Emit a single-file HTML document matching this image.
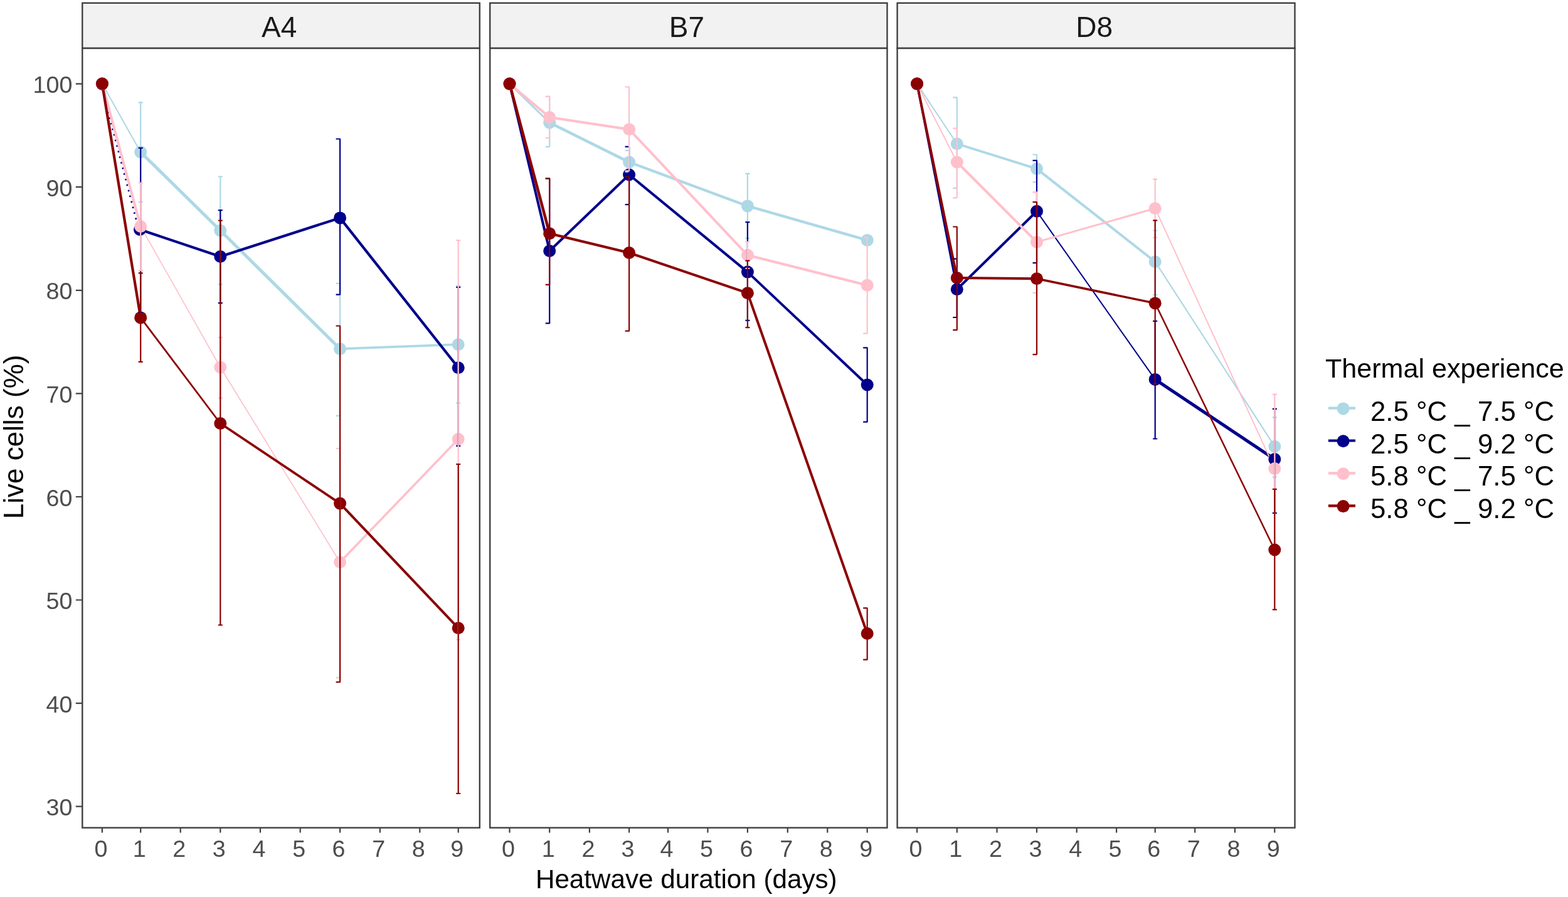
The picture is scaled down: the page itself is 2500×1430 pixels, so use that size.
<!DOCTYPE html><html><head><meta charset="utf-8"><title>Live cells</title><style>html,body{margin:0;padding:0;background:#fff;}svg{display:block;}text{font-family:"Liberation Sans",Arial,sans-serif;}</style></head><body>
<svg width="2500" height="1430" viewBox="0 0 2500 1430">
<rect width="2500" height="1430" fill="#ffffff"/>
<rect x="131.3" y="4.8" width="633.5" height="72.1" fill="#F2F2F2" stroke="#404040" stroke-width="2.4"/>
<text x="445.1" y="59.4" font-size="46" fill="#1A1A1A" text-anchor="middle">A4</text>
<clipPath id="cA4"><rect x="131.3" y="76.9" width="633.5" height="1242.7"/></clipPath>
<g clip-path="url(#cA4)">
<line x1="162.9" y1="133.6" x2="224.2" y2="242.5" stroke="#ADD8E6" stroke-width="2" stroke-linecap="butt"/>
<line x1="224.2" y1="242.5" x2="351.3" y2="367.5" stroke="#ADD8E6" stroke-width="5" stroke-linecap="butt"/>
<line x1="351.3" y1="367.5" x2="542.1" y2="556.2" stroke="#ADD8E6" stroke-width="5" stroke-linecap="butt"/>
<line x1="542.1" y1="556.2" x2="730.7" y2="549.2" stroke="#ADD8E6" stroke-width="3.8" stroke-linecap="butt"/>
<line x1="160.8" y1="133.6" x2="221.6" y2="367.5" stroke="#00008B" stroke-width="2.6" stroke-dasharray="2.6 6.6"/>
<line x1="223" y1="366" x2="351.3" y2="409" stroke="#00008B" stroke-width="4.2" stroke-linecap="butt"/>
<line x1="351.3" y1="409" x2="542.1" y2="347.4" stroke="#00008B" stroke-width="4.2" stroke-linecap="butt"/>
<line x1="542.1" y1="347.4" x2="730.7" y2="586.2" stroke="#00008B" stroke-width="4.2" stroke-linecap="butt"/>
<line x1="162.9" y1="133.6" x2="224.2" y2="361" stroke="#FFC0CB" stroke-width="4.2" stroke-linecap="butt"/>
<line x1="224.2" y1="361" x2="351.3" y2="585.5" stroke="#FFC0CB" stroke-width="1.7" stroke-linecap="butt"/>
<line x1="351.3" y1="585.5" x2="542.1" y2="896.2" stroke="#FFC0CB" stroke-width="1.7" stroke-linecap="butt"/>
<line x1="542.1" y1="896.2" x2="730.7" y2="700" stroke="#FFC0CB" stroke-width="3.6" stroke-linecap="butt"/>
<line x1="162.9" y1="133.6" x2="224.2" y2="506.4" stroke="#8B0000" stroke-width="4.2" stroke-linecap="butt"/>
<line x1="224.2" y1="506.4" x2="351.3" y2="675" stroke="#8B0000" stroke-width="2.8" stroke-linecap="butt"/>
<line x1="351.3" y1="675" x2="542.1" y2="802.6" stroke="#8B0000" stroke-width="3.8" stroke-linecap="butt"/>
<line x1="542.1" y1="802.6" x2="730.7" y2="1001.3" stroke="#8B0000" stroke-width="4" stroke-linecap="butt"/>
<circle cx="162.9" cy="133.6" r="10" fill="#ADD8E6"/>
<circle cx="224.2" cy="242.5" r="10" fill="#ADD8E6"/>
<circle cx="351.3" cy="367.5" r="10" fill="#ADD8E6"/>
<circle cx="542.1" cy="556.2" r="10" fill="#ADD8E6"/>
<circle cx="730.7" cy="549.2" r="10" fill="#ADD8E6"/>
<circle cx="162.9" cy="133.6" r="10" fill="#00008B"/>
<circle cx="223" cy="366" r="10" fill="#00008B"/>
<circle cx="351.3" cy="409" r="10" fill="#00008B"/>
<circle cx="542.1" cy="347.4" r="10" fill="#00008B"/>
<circle cx="730.7" cy="586.2" r="10" fill="#00008B"/>
<circle cx="162.9" cy="133.6" r="10" fill="#FFC0CB"/>
<circle cx="224.2" cy="361" r="10" fill="#FFC0CB"/>
<circle cx="351.3" cy="585.5" r="10" fill="#FFC0CB"/>
<circle cx="542.1" cy="896.2" r="10" fill="#FFC0CB"/>
<circle cx="730.7" cy="700" r="10" fill="#FFC0CB"/>
<circle cx="162.9" cy="133.6" r="10" fill="#8B0000"/>
<circle cx="224.2" cy="506.4" r="10" fill="#8B0000"/>
<circle cx="351.3" cy="675" r="10" fill="#8B0000"/>
<circle cx="542.1" cy="802.6" r="10" fill="#8B0000"/>
<circle cx="730.7" cy="1001.3" r="10" fill="#8B0000"/>
<path d="M224.2 163.3V322M220.7 163.3H227.7M220.7 322H227.7" stroke="#ADD8E6" stroke-width="2.2" fill="none"/>
<path d="M351.3 281.5V453.4M347.8 281.5H354.8M347.8 453.4H354.8" stroke="#ADD8E6" stroke-width="2.2" fill="none"/>
<path d="M542.1 451.8V662.9M535.6 451.8H542.7M535.6 662.9H542.7" stroke="#ADD8E6" stroke-width="2.2" fill="none"/>
<path d="M730.7 455.9V642.5M727.2 455.9H734.2M727.2 642.5H734.2" stroke="#ADD8E6" stroke-width="2.2" fill="none"/>
<path d="M224.2 235.8V498M220.7 235.8H227.7M220.7 498H227.7" stroke="#00008B" stroke-width="2.2" fill="none"/>
<path d="M351.3 335.2V483.2M347.8 335.2H354.8M347.8 483.2H354.8" stroke="#00008B" stroke-width="2.2" fill="none"/>
<path d="M542.1 221.5V469.6M535.6 221.5H542.7M535.6 469.6H542.7" stroke="#00008B" stroke-width="2.2" fill="none"/>
<path d="M730.7 457.8V710.8M727.2 457.8H734.2M727.2 710.8H734.2" stroke="#00008B" stroke-width="2.2" fill="none"/>
<path d="M224.2 291.5V431.1M220.7 291.5H227.7M220.7 431.1H227.7" stroke="#FFC0CB" stroke-width="2.2" fill="none"/>
<path d="M351.3 537.9V634.6M347.8 537.9H354.8M347.8 634.6H354.8" stroke="#FFC0CB" stroke-width="2.2" fill="none"/>
<path d="M542.1 715V1080.4M535.6 715H542.7M535.6 1080.4H542.7" stroke="#FFC0CB" stroke-width="2.2" fill="none"/>
<path d="M730.7 383.1V1019.7M727.2 383.1H734.2M727.2 1019.7H734.2" stroke="#FFC0CB" stroke-width="2.2" fill="none"/>
<path d="M224.2 435.3V576.9M220.7 435.3H227.7M220.7 576.9H227.7" stroke="#8B0000" stroke-width="2.2" fill="none"/>
<path d="M351.3 351.5V996.5M347.8 351.5H354.8M347.8 996.5H354.8" stroke="#8B0000" stroke-width="2.2" fill="none"/>
<path d="M542.1 519.5V1087.4M535.6 519.5H542.7M535.6 1087.4H542.7" stroke="#8B0000" stroke-width="2.2" fill="none"/>
<path d="M730.7 740V1265M727.2 740H734.2M727.2 1265H734.2" stroke="#8B0000" stroke-width="2.2" fill="none"/>
</g>
<rect x="131.3" y="76.9" width="633.5" height="1242.7" fill="none" stroke="#404040" stroke-width="2.4"/>
<path d="M162.9 1319.6V1327.6M224.2 1319.6V1327.6M287.7 1319.6V1327.6M351.3 1319.6V1327.6M415.0 1319.6V1327.6M478.7 1319.6V1327.6M542.1 1319.6V1327.6M605.8 1319.6V1327.6M669.3 1319.6V1327.6M730.7 1319.6V1327.6" stroke="#404040" stroke-width="2.2"/>
<text x="160.9" y="1366.2" font-size="37.7" fill="#4D4D4D" text-anchor="middle">0</text>
<text x="222.2" y="1366.2" font-size="37.7" fill="#4D4D4D" text-anchor="middle">1</text>
<text x="285.7" y="1366.2" font-size="37.7" fill="#4D4D4D" text-anchor="middle">2</text>
<text x="349.3" y="1366.2" font-size="37.7" fill="#4D4D4D" text-anchor="middle">3</text>
<text x="413.0" y="1366.2" font-size="37.7" fill="#4D4D4D" text-anchor="middle">4</text>
<text x="476.7" y="1366.2" font-size="37.7" fill="#4D4D4D" text-anchor="middle">5</text>
<text x="540.1" y="1366.2" font-size="37.7" fill="#4D4D4D" text-anchor="middle">6</text>
<text x="603.8" y="1366.2" font-size="37.7" fill="#4D4D4D" text-anchor="middle">7</text>
<text x="667.3" y="1366.2" font-size="37.7" fill="#4D4D4D" text-anchor="middle">8</text>
<text x="728.7" y="1366.2" font-size="37.7" fill="#4D4D4D" text-anchor="middle">9</text>
<rect x="781.2" y="4.8" width="633.3" height="72.1" fill="#F2F2F2" stroke="#404040" stroke-width="2.4"/>
<text x="1094.9" y="59.4" font-size="46" fill="#1A1A1A" text-anchor="middle">B7</text>
<clipPath id="cB7"><rect x="781.2" y="76.9" width="633.3" height="1242.7"/></clipPath>
<g clip-path="url(#cB7)">
<line x1="812.5" y1="133.6" x2="876.2" y2="195.5" stroke="#ADD8E6" stroke-width="3" stroke-linecap="butt"/>
<line x1="876.2" y1="195.5" x2="1003.1" y2="258.5" stroke="#ADD8E6" stroke-width="4.6" stroke-linecap="butt"/>
<line x1="1003.1" y1="258.5" x2="1191.9" y2="328.4" stroke="#ADD8E6" stroke-width="4.3" stroke-linecap="butt"/>
<line x1="1191.9" y1="328.4" x2="1382.7" y2="382.9" stroke="#ADD8E6" stroke-width="4.3" stroke-linecap="butt"/>
<line x1="812.5" y1="133.6" x2="876.2" y2="400" stroke="#00008B" stroke-width="4" stroke-linecap="butt"/>
<line x1="876.2" y1="400" x2="1003.1" y2="278.5" stroke="#00008B" stroke-width="4" stroke-linecap="butt"/>
<line x1="1003.1" y1="278.5" x2="1191.9" y2="433.6" stroke="#00008B" stroke-width="4" stroke-linecap="butt"/>
<line x1="1191.9" y1="433.6" x2="1382.7" y2="613.5" stroke="#00008B" stroke-width="4" stroke-linecap="butt"/>
<line x1="812.5" y1="133.6" x2="876.2" y2="187" stroke="#FFC0CB" stroke-width="4" stroke-linecap="butt"/>
<line x1="876.2" y1="187" x2="1003.1" y2="206.2" stroke="#FFC0CB" stroke-width="4" stroke-linecap="butt"/>
<line x1="1003.1" y1="206.2" x2="1191.9" y2="406.8" stroke="#FFC0CB" stroke-width="4" stroke-linecap="butt"/>
<line x1="1191.9" y1="406.8" x2="1382.7" y2="454.7" stroke="#FFC0CB" stroke-width="4" stroke-linecap="butt"/>
<line x1="812.5" y1="133.6" x2="876.2" y2="372.3" stroke="#8B0000" stroke-width="4.5" stroke-linecap="butt"/>
<line x1="876.2" y1="372.3" x2="1003.1" y2="403" stroke="#8B0000" stroke-width="4" stroke-linecap="butt"/>
<line x1="1003.1" y1="403" x2="1191.9" y2="467.2" stroke="#8B0000" stroke-width="4" stroke-linecap="butt"/>
<line x1="1191.9" y1="467.2" x2="1382.7" y2="1010" stroke="#8B0000" stroke-width="4" stroke-linecap="butt"/>
<circle cx="812.5" cy="133.6" r="10" fill="#ADD8E6"/>
<circle cx="876.2" cy="195.5" r="10" fill="#ADD8E6"/>
<circle cx="1003.1" cy="258.5" r="10" fill="#ADD8E6"/>
<circle cx="1191.9" cy="328.4" r="10" fill="#ADD8E6"/>
<circle cx="1382.7" cy="382.9" r="10" fill="#ADD8E6"/>
<circle cx="812.5" cy="133.6" r="10" fill="#00008B"/>
<circle cx="876.2" cy="400" r="10" fill="#00008B"/>
<circle cx="1003.1" cy="278.5" r="10" fill="#00008B"/>
<circle cx="1191.9" cy="433.6" r="10" fill="#00008B"/>
<circle cx="1382.7" cy="613.5" r="10" fill="#00008B"/>
<circle cx="812.5" cy="133.6" r="10" fill="#FFC0CB"/>
<circle cx="876.2" cy="187" r="10" fill="#FFC0CB"/>
<circle cx="1003.1" cy="206.2" r="10" fill="#FFC0CB"/>
<circle cx="1191.9" cy="406.8" r="10" fill="#FFC0CB"/>
<circle cx="1382.7" cy="454.7" r="10" fill="#FFC0CB"/>
<circle cx="812.5" cy="133.6" r="10" fill="#8B0000"/>
<circle cx="876.2" cy="372.3" r="10" fill="#8B0000"/>
<circle cx="1003.1" cy="403" r="10" fill="#8B0000"/>
<circle cx="1191.9" cy="467.2" r="10" fill="#8B0000"/>
<circle cx="1382.7" cy="1010" r="10" fill="#8B0000"/>
<path d="M876.2 153.8V233.8M869.7 153.8H876.8M869.7 233.8H876.8" stroke="#ADD8E6" stroke-width="2.2" fill="none"/>
<path d="M1003.1 240V274M996.6 240H1003.7M996.6 274H1003.7" stroke="#ADD8E6" stroke-width="2.2" fill="none"/>
<path d="M1191.9 276.9V379.9M1188.4 276.9H1195.4M1188.4 379.9H1195.4" stroke="#ADD8E6" stroke-width="2.2" fill="none"/>
<path d="M1382.7 380V386M1376.2 380H1383.3M1376.2 386H1383.3" stroke="#ADD8E6" stroke-width="2.2" fill="none"/>
<path d="M876.2 284.6V515.4M869.7 284.6H876.8M869.7 515.4H876.8" stroke="#00008B" stroke-width="2.2" fill="none"/>
<path d="M1003.1 233.8V326.2M996.6 233.8H1003.7M996.6 326.2H1003.7" stroke="#00008B" stroke-width="2.2" fill="none"/>
<path d="M1191.9 354.2V510.9M1188.4 354.2H1195.4M1188.4 510.9H1195.4" stroke="#00008B" stroke-width="2.2" fill="none"/>
<path d="M1382.7 554.3V672.7M1376.2 554.3H1383.3M1376.2 672.7H1383.3" stroke="#00008B" stroke-width="2.2" fill="none"/>
<path d="M876.2 153.8V220M869.7 153.8H876.8M869.7 220H876.8" stroke="#FFC0CB" stroke-width="2.2" fill="none"/>
<path d="M1003.1 138.5V272.3M996.6 138.5H1003.7M996.6 272.3H1003.7" stroke="#FFC0CB" stroke-width="2.2" fill="none"/>
<path d="M1191.9 385.5V428M1188.4 385.5H1195.4M1188.4 428H1195.4" stroke="#FFC0CB" stroke-width="2.2" fill="none"/>
<path d="M1382.7 378.3V531.6M1376.2 378.3H1383.3M1376.2 531.6H1383.3" stroke="#FFC0CB" stroke-width="2.2" fill="none"/>
<path d="M876.2 284.6V453.8M869.7 284.6H876.8M869.7 453.8H876.8" stroke="#8B0000" stroke-width="2.2" fill="none"/>
<path d="M1003.1 281.5V527.7M996.6 281.5H1003.7M996.6 527.7H1003.7" stroke="#8B0000" stroke-width="2.2" fill="none"/>
<path d="M1191.9 415.7V522.1M1188.4 415.7H1195.4M1188.4 522.1H1195.4" stroke="#8B0000" stroke-width="2.2" fill="none"/>
<path d="M1382.7 969.4V1051.7M1376.2 969.4H1383.3M1376.2 1051.7H1383.3" stroke="#8B0000" stroke-width="2.2" fill="none"/>
</g>
<rect x="781.2" y="76.9" width="633.3" height="1242.7" fill="none" stroke="#404040" stroke-width="2.4"/>
<path d="M812.5 1319.6V1327.6M876.2 1319.6V1327.6M939.9 1319.6V1327.6M1003.1 1319.6V1327.6M1065.0 1319.6V1327.6M1128.4 1319.6V1327.6M1191.9 1319.6V1327.6M1255.8 1319.6V1327.6M1319.3 1319.6V1327.6M1382.7 1319.6V1327.6" stroke="#404040" stroke-width="2.2"/>
<text x="810.5" y="1366.2" font-size="37.7" fill="#4D4D4D" text-anchor="middle">0</text>
<text x="874.2" y="1366.2" font-size="37.7" fill="#4D4D4D" text-anchor="middle">1</text>
<text x="937.9" y="1366.2" font-size="37.7" fill="#4D4D4D" text-anchor="middle">2</text>
<text x="1001.1" y="1366.2" font-size="37.7" fill="#4D4D4D" text-anchor="middle">3</text>
<text x="1063.0" y="1366.2" font-size="37.7" fill="#4D4D4D" text-anchor="middle">4</text>
<text x="1126.4" y="1366.2" font-size="37.7" fill="#4D4D4D" text-anchor="middle">5</text>
<text x="1189.9" y="1366.2" font-size="37.7" fill="#4D4D4D" text-anchor="middle">6</text>
<text x="1253.8" y="1366.2" font-size="37.7" fill="#4D4D4D" text-anchor="middle">7</text>
<text x="1317.3" y="1366.2" font-size="37.7" fill="#4D4D4D" text-anchor="middle">8</text>
<text x="1380.7" y="1366.2" font-size="37.7" fill="#4D4D4D" text-anchor="middle">9</text>
<rect x="1430.6" y="4.8" width="633.9" height="72.1" fill="#F2F2F2" stroke="#404040" stroke-width="2.4"/>
<text x="1744.6" y="59.4" font-size="46" fill="#1A1A1A" text-anchor="middle">D8</text>
<clipPath id="cD8"><rect x="1430.6" y="76.9" width="633.9" height="1242.7"/></clipPath>
<g clip-path="url(#cD8)">
<line x1="1462.1" y1="133.6" x2="1525.8" y2="229.2" stroke="#ADD8E6" stroke-width="2" stroke-linecap="butt"/>
<line x1="1525.8" y1="229.2" x2="1653.0" y2="269.1" stroke="#ADD8E6" stroke-width="3.8" stroke-linecap="butt"/>
<line x1="1653.0" y1="269.1" x2="1841.7" y2="417.2" stroke="#ADD8E6" stroke-width="4" stroke-linecap="butt"/>
<line x1="1841.7" y1="417.2" x2="2032.3" y2="711.7" stroke="#ADD8E6" stroke-width="2.2" stroke-linecap="butt"/>
<line x1="1462.1" y1="133.6" x2="1525.8" y2="461.2" stroke="#00008B" stroke-width="3" stroke-linecap="butt"/>
<line x1="1525.8" y1="461.2" x2="1653.0" y2="336.8" stroke="#00008B" stroke-width="4" stroke-linecap="butt"/>
<line x1="1653.0" y1="336.8" x2="1841.7" y2="604.9" stroke="#00008B" stroke-width="2" stroke-linecap="butt"/>
<line x1="1841.7" y1="604.9" x2="2032.3" y2="732.1" stroke="#00008B" stroke-width="5" stroke-linecap="butt"/>
<line x1="1462.1" y1="133.6" x2="1525.8" y2="258.5" stroke="#FFC0CB" stroke-width="2" stroke-linecap="butt"/>
<line x1="1525.8" y1="258.5" x2="1653.0" y2="385.9" stroke="#FFC0CB" stroke-width="4" stroke-linecap="butt"/>
<line x1="1653.0" y1="385.9" x2="1841.7" y2="332.2" stroke="#FFC0CB" stroke-width="3" stroke-linecap="butt"/>
<line x1="1841.7" y1="332.2" x2="2032.3" y2="747.1" stroke="#FFC0CB" stroke-width="2" stroke-linecap="butt"/>
<line x1="1462.1" y1="133.6" x2="1525.8" y2="443" stroke="#8B0000" stroke-width="4" stroke-linecap="butt"/>
<line x1="1525.8" y1="443" x2="1653.0" y2="444.3" stroke="#8B0000" stroke-width="4" stroke-linecap="butt"/>
<line x1="1653.0" y1="444.3" x2="1841.7" y2="483.4" stroke="#8B0000" stroke-width="3.5" stroke-linecap="butt"/>
<line x1="1841.7" y1="483.4" x2="2032.3" y2="876.5" stroke="#8B0000" stroke-width="2.5" stroke-linecap="butt"/>
<circle cx="1462.1" cy="133.6" r="10" fill="#ADD8E6"/>
<circle cx="1525.8" cy="229.2" r="10" fill="#ADD8E6"/>
<circle cx="1653.0" cy="269.1" r="10" fill="#ADD8E6"/>
<circle cx="1841.7" cy="417.2" r="10" fill="#ADD8E6"/>
<circle cx="2032.3" cy="711.7" r="10" fill="#ADD8E6"/>
<circle cx="1462.1" cy="133.6" r="10" fill="#00008B"/>
<circle cx="1525.8" cy="461.2" r="10" fill="#00008B"/>
<circle cx="1653.0" cy="336.8" r="10" fill="#00008B"/>
<circle cx="1841.7" cy="604.9" r="10" fill="#00008B"/>
<circle cx="2032.3" cy="732.1" r="10" fill="#00008B"/>
<circle cx="1462.1" cy="133.6" r="10" fill="#FFC0CB"/>
<circle cx="1525.8" cy="258.5" r="10" fill="#FFC0CB"/>
<circle cx="1653.0" cy="385.9" r="10" fill="#FFC0CB"/>
<circle cx="1841.7" cy="332.2" r="10" fill="#FFC0CB"/>
<circle cx="2032.3" cy="747.1" r="10" fill="#FFC0CB"/>
<circle cx="1462.1" cy="133.6" r="10" fill="#8B0000"/>
<circle cx="1525.8" cy="443" r="10" fill="#8B0000"/>
<circle cx="1653.0" cy="444.3" r="10" fill="#8B0000"/>
<circle cx="1841.7" cy="483.4" r="10" fill="#8B0000"/>
<circle cx="2032.3" cy="876.5" r="10" fill="#8B0000"/>
<path d="M1525.8 155.4V300M1519.3 155.4H1526.4M1519.3 300H1526.4" stroke="#ADD8E6" stroke-width="2.2" fill="none"/>
<path d="M1653.0 246.5V290.3M1646.5 246.5H1653.6M1646.5 290.3H1653.6" stroke="#ADD8E6" stroke-width="2.2" fill="none"/>
<path d="M1841.7 367.5V469.9M1838.2 367.5H1845.2M1838.2 469.9H1845.2" stroke="#ADD8E6" stroke-width="2.2" fill="none"/>
<path d="M2032.3 665.4V760.7M2028.8 665.4H2035.8M2028.8 760.7H2035.8" stroke="#ADD8E6" stroke-width="2.2" fill="none"/>
<path d="M1525.8 412.6V506M1519.3 412.6H1526.4M1519.3 506H1526.4" stroke="#00008B" stroke-width="2.2" fill="none"/>
<path d="M1653.0 255.8V419.1M1646.5 255.8H1653.6M1646.5 419.1H1653.6" stroke="#00008B" stroke-width="2.2" fill="none"/>
<path d="M1841.7 511.8V699.5M1838.2 511.8H1845.2M1838.2 699.5H1845.2" stroke="#00008B" stroke-width="2.2" fill="none"/>
<path d="M2032.3 651.8V817.9M2028.8 651.8H2035.8M2028.8 817.9H2035.8" stroke="#00008B" stroke-width="2.2" fill="none"/>
<path d="M1525.8 204.6V315.4M1519.3 204.6H1526.4M1519.3 315.4H1526.4" stroke="#FFC0CB" stroke-width="2.2" fill="none"/>
<path d="M1653.0 306.3V466.9M1646.5 306.3H1653.6M1646.5 466.9H1653.6" stroke="#FFC0CB" stroke-width="2.2" fill="none"/>
<path d="M1841.7 285.7V378.7M1838.2 285.7H1845.2M1838.2 378.7H1845.2" stroke="#FFC0CB" stroke-width="2.2" fill="none"/>
<path d="M2032.3 628.6V865.6M2028.8 628.6H2035.8M2028.8 865.6H2035.8" stroke="#FFC0CB" stroke-width="2.2" fill="none"/>
<path d="M1525.8 361.5V526.2M1519.3 361.5H1526.4M1519.3 526.2H1526.4" stroke="#8B0000" stroke-width="2.2" fill="none"/>
<path d="M1653.0 322.2V565.1M1646.5 322.2H1653.6M1646.5 565.1H1653.6" stroke="#8B0000" stroke-width="2.2" fill="none"/>
<path d="M1841.7 351.4V612M1838.2 351.4H1845.2M1838.2 612H1845.2" stroke="#8B0000" stroke-width="2.2" fill="none"/>
<path d="M2032.3 779.8V971.8M2028.8 779.8H2035.8M2028.8 971.8H2035.8" stroke="#8B0000" stroke-width="2.2" fill="none"/>
</g>
<rect x="1430.6" y="76.9" width="633.9" height="1242.7" fill="none" stroke="#404040" stroke-width="2.4"/>
<path d="M1462.1 1319.6V1327.6M1525.8 1319.6V1327.6M1589.5 1319.6V1327.6M1653.0 1319.6V1327.6M1716.7 1319.6V1327.6M1780.1 1319.6V1327.6M1841.7 1319.6V1327.6M1905.2 1319.6V1327.6M1968.9 1319.6V1327.6M2032.3 1319.6V1327.6" stroke="#404040" stroke-width="2.2"/>
<text x="1460.1" y="1366.2" font-size="37.7" fill="#4D4D4D" text-anchor="middle">0</text>
<text x="1523.8" y="1366.2" font-size="37.7" fill="#4D4D4D" text-anchor="middle">1</text>
<text x="1587.5" y="1366.2" font-size="37.7" fill="#4D4D4D" text-anchor="middle">2</text>
<text x="1651.0" y="1366.2" font-size="37.7" fill="#4D4D4D" text-anchor="middle">3</text>
<text x="1714.7" y="1366.2" font-size="37.7" fill="#4D4D4D" text-anchor="middle">4</text>
<text x="1778.1" y="1366.2" font-size="37.7" fill="#4D4D4D" text-anchor="middle">5</text>
<text x="1839.7" y="1366.2" font-size="37.7" fill="#4D4D4D" text-anchor="middle">6</text>
<text x="1903.2" y="1366.2" font-size="37.7" fill="#4D4D4D" text-anchor="middle">7</text>
<text x="1966.9" y="1366.2" font-size="37.7" fill="#4D4D4D" text-anchor="middle">8</text>
<text x="2030.3" y="1366.2" font-size="37.7" fill="#4D4D4D" text-anchor="middle">9</text>
<text x="115.4" y="148.1" font-size="37.7" fill="#4D4D4D" text-anchor="end">100</text>
<text x="115.4" y="312.7" font-size="37.7" fill="#4D4D4D" text-anchor="end">90</text>
<text x="115.4" y="477.3" font-size="37.7" fill="#4D4D4D" text-anchor="end">80</text>
<text x="115.4" y="641.9" font-size="37.7" fill="#4D4D4D" text-anchor="end">70</text>
<text x="115.4" y="806.5" font-size="37.7" fill="#4D4D4D" text-anchor="end">60</text>
<text x="115.4" y="971.0" font-size="37.7" fill="#4D4D4D" text-anchor="end">50</text>
<text x="115.4" y="1135.6" font-size="37.7" fill="#4D4D4D" text-anchor="end">40</text>
<text x="115.4" y="1300.2" font-size="37.7" fill="#4D4D4D" text-anchor="end">30</text>
<path d="M120.8 133.6H131.3M120.8 298.2H131.3M120.8 462.8H131.3M120.8 627.4H131.3M120.8 792.0H131.3M120.8 956.5H131.3M120.8 1121.1H131.3M120.8 1285.7H131.3" stroke="#404040" stroke-width="2.2"/>
<text x="1094.3" y="1415.9" font-size="42.2" fill="#000" text-anchor="middle">Heatwave duration (days)</text>
<text transform="translate(36.7 696.4) rotate(-90)" x="0" y="0" font-size="44" fill="#000" text-anchor="middle">Live cells (%)</text>
<text x="2113" y="602.4" font-size="43.1" fill="#000">Thermal experience</text>
<line x1="2117.9" y1="650.6" x2="2161" y2="650.6" stroke="#ADD8E6" stroke-width="4.2"/>
<circle cx="2141.6" cy="651.4" r="10" fill="#ADD8E6"/>
<text x="2185" y="670.6" font-size="43.8" fill="#000">2.5 °C _ 7.5 °C</text>
<line x1="2117.9" y1="702.5" x2="2161" y2="702.5" stroke="#00008B" stroke-width="4.2"/>
<circle cx="2141.6" cy="703.3" r="10" fill="#00008B"/>
<text x="2185" y="722.5" font-size="43.8" fill="#000">2.5 °C _ 9.2 °C</text>
<line x1="2117.9" y1="754.4" x2="2161" y2="754.4" stroke="#FFC0CB" stroke-width="4.2"/>
<circle cx="2141.6" cy="755.2" r="10" fill="#FFC0CB"/>
<text x="2185" y="774.4" font-size="43.8" fill="#000">5.8 °C _ 7.5 °C</text>
<line x1="2117.9" y1="806.3" x2="2161" y2="806.3" stroke="#8B0000" stroke-width="4.2"/>
<circle cx="2141.6" cy="807.1" r="10" fill="#8B0000"/>
<text x="2185" y="826.3" font-size="43.8" fill="#000">5.8 °C _ 9.2 °C</text>
</svg></body></html>
